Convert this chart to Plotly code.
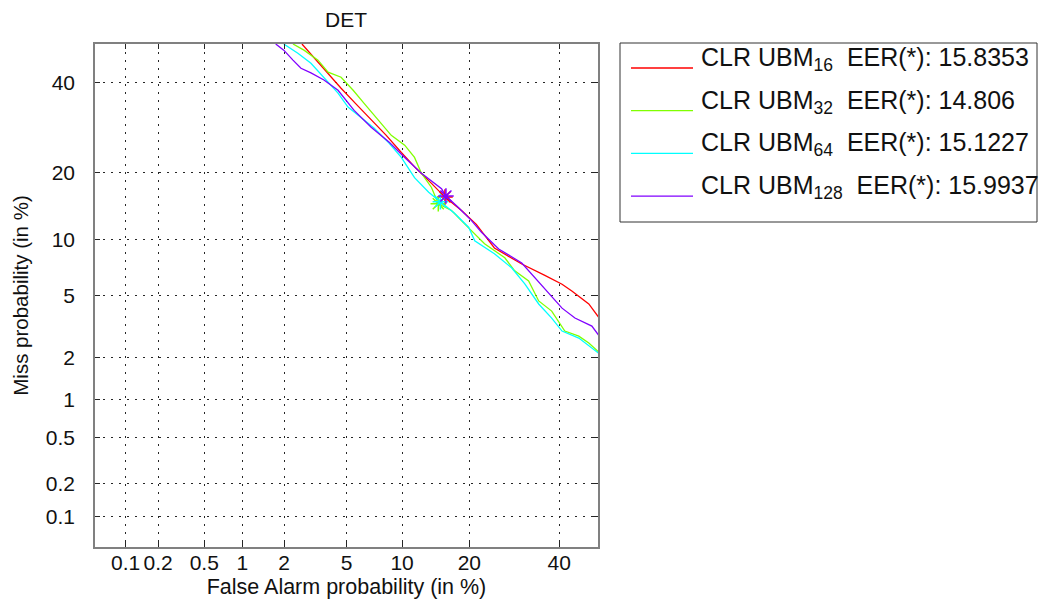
from statistics import NormalDist
import plotly.graph_objects as go

# ---------------- data (percent) ----------------
names = ["CLR UBM<sub>16</sub>", "CLR UBM<sub>32</sub>", "CLR UBM<sub>64</sub>", "CLR UBM<sub>128</sub>"]
eers = [15.8353, 14.806, 15.1227, 15.9937]
eer_text = ["15.8353", "14.806", "15.1227", "15.9937"]
colors = ["#ff0000", "#80ff00", "#00ffff", "#8000ff"]

red_fa = [2.64, 3.25, 3.87, 4.64, 5.68, 6.89, 8.30, 9.91, 11.7, 13.8, 15.83, 18.6, 21.3, 24.9, 30.9, 36.4, 40.7, 43.2, 47.6, 50.5]
red_miss = [50.0, 45.8, 42.2, 38.6, 34.7, 31.1, 27.5, 23.9, 20.8, 18.1, 15.83, 13.8, 11.9, 9.1, 7.5, 6.5, 5.8, 5.3, 4.45, 3.6]

green_fa = [2.30, 2.72, 3.35, 3.87, 4.64, 5.46, 6.3, 7.52, 8.81, 10.3, 11.5, 12.4, 13.8, 14.806, 16.9, 19.1, 22.9, 27.1, 29.3, 32.5, 34.9, 38.1, 41.4, 45.0, 47.6, 50.5]
green_miss = [50.0, 48.4, 45.8, 42.7, 41.4, 38.1, 34.9, 30.9, 27.5, 25.4, 22.9, 19.9, 17.4, 14.806, 13.8, 12.0, 9.56, 8.1, 6.89, 6.06, 4.64, 4.03, 3.02, 2.80, 2.52, 2.16]

cyan_fa = [1.99, 2.48, 3.02, 3.65, 4.45, 5.10, 6.06, 7.16, 8.6, 9.91, 11.5, 13.4, 15.12, 17.4, 19.9, 21.0, 24.9, 28.6, 31.6, 34.9, 38.1, 40.7, 45.0, 48.4, 50.5]
cyan_miss = [50.0, 47.6, 45.0, 41.4, 37.4, 34.0, 31.6, 29.1, 25.8, 22.9, 19.1, 16.6, 15.12, 13.4, 11.5, 9.91, 8.5, 7.16, 5.83, 4.45, 3.65, 3.02, 2.72, 2.33, 2.12]

purple_fa = [1.75, 1.99, 2.30, 2.60, 3.02, 3.65, 4.45, 5.53, 6.89, 8.6, 10.3, 12.4, 15.3, 15.99, 18.1, 20.4, 22.3, 25.8, 30.9, 34.0, 37.4, 40.7, 44.0, 48.4, 50.5]
purple_miss = [50.0, 48.4, 45.8, 43.7, 42.5, 40.7, 38.1, 33.2, 29.3, 26.0, 22.9, 19.9, 17.2, 15.99, 14.2, 12.4, 10.9, 9.0, 7.6, 6.3, 5.1, 4.2, 3.65, 3.25, 2.76]

tick_pct = [0.1, 0.2, 0.5, 1, 2, 5, 10, 20, 40]
tick_text = ["0.1", "0.2", "0.5", "1", "2", "5", "10", "20", "40"]
axis_min_pct, axis_max_pct = 0.05, 50.0

# ---------------- helpers ----------------
nd = NormalDist()
def probit(v):
    return [nd.inv_cdf(x / 100.0) for x in v]

FONT = "Liberation Sans, Arial, sans-serif"
W, H = 1043, 599
L, R, T, B = 95, 598, 44, 547  # plot area in px

def px_x(p):
    return (p - L) / (R - L)

def px_y(p):
    return (B - p) / (B - T)

fig = go.Figure()
series = [(red_fa, red_miss), (green_fa, green_miss), (cyan_fa, cyan_miss), (purple_fa, purple_miss)]
for (fa, miss), c, n in zip(series, colors, names):
    fig.add_trace(go.Scatter(x=probit(fa), y=probit(miss), mode="lines",
                             line=dict(color=c, width=1.3), name=n, showlegend=False,
                             hoverinfo="skip"))
for e, c in zip(eers, colors):
    fig.add_trace(go.Scatter(x=probit([e]), y=probit([e]), mode="markers",
                             marker=dict(symbol="asterisk-open", size=13, color=c,
                                         line=dict(color=c, width=1.5)),
                             showlegend=False, hoverinfo="skip"))

tv = probit(tick_pct)
rng = probit([axis_min_pct, axis_max_pct])
axis_common = dict(
    tickvals=tv, ticktext=tick_text, range=rng, tickangle=0,
    ticks="inside", ticklen=5, tickwidth=1, tickcolor="#262626",
    showline=True, linecolor="#808080", linewidth=1.5, mirror="allticks",
    showgrid=True, gridcolor="#262626", gridwidth=1, griddash="2px,6px",
    zeroline=False, tickfont=dict(family=FONT, size=21, color="#111"),
    automargin=False,
)
fig.update_xaxes(**axis_common, ticklabelstandoff=-4,
                 title=dict(text="False Alarm probability (in %)",
                            font=dict(family=FONT, size=21.5, color="#111"), standoff=6))
fig.update_yaxes(**axis_common, ticklabelstandoff=14,
                 title=dict(text="Miss probability (in %)",
                            font=dict(family=FONT, size=20.5, color="#111"), standoff=12))

# ---------------- legend (manual, MATLAB style) ----------------
box = dict(x0=620, x1=1037, y0=43, y1=222)
fig.add_shape(type="rect", xref="paper", yref="paper",
              x0=px_x(box["x0"]), x1=px_x(box["x1"]), y0=px_y(box["y1"]), y1=px_y(box["y0"]),
              line=dict(color="#333333", width=1), fillcolor="white", layer="above")
for i, (n, c, et) in enumerate(zip(names, colors, eer_text)):
    ly = 68 + 42.7 * i
    fig.add_shape(type="line", xref="paper", yref="paper",
                  x0=px_x(631), x1=px_x(693), y0=px_y(ly), y1=px_y(ly),
                  line=dict(color=c, width=1.3), layer="above")
    fig.add_annotation(xref="paper", yref="paper", x=px_x(699), y=px_y(ly - 9),
                       xanchor="left", yanchor="middle", showarrow=False,
                       text=n + "\u00a0\u00a0EER(*): " + et,
                       font=dict(family=FONT, size=25, color="#111"))

fig.update_layout(
    width=W, height=H,
    margin=dict(l=L, r=W - R, t=T, b=H - B, pad=0),
    paper_bgcolor="white", plot_bgcolor="white",
    title=dict(text="DET", x=346 / W, xanchor="center", y=1 - 20 / H, yanchor="middle",
               font=dict(family=FONT, size=21, color="#111")),
    showlegend=False,
)
fig.write_html("out.html")
